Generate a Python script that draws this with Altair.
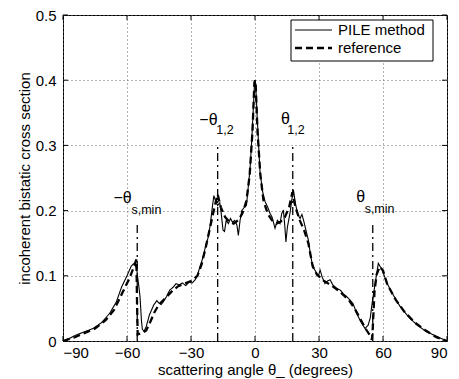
import altair as alt
import pandas as pd

# ---- data ----
pile_deg = [-90, -87, -84, -80, -76, -72, -68, -65, -62.5, -60, -58, -56.7, -55.5, -54.5, -53.9,
            -53.2, -52.8, -52, -51, -49.5, -47.5, -46, -45, -44, -43, -41.5, -40, -38.5, -37,
            -35.5, -34, -32.5, -31, -29.5, -28, -27, -26, -25, -24, -23, -22, -21, -20, -19.3,
            -18.5, -17.5, -16.5, -15.8, -15, -14.3, -13.5, -12.5, -11.5, -10.5, -9.5, -8.5, -7.8,
            -7, -6.2, -5, -4, -3.2, -2.3, -1.5, -0.5, -0.2, 0.3, 1, 2.3, 3.5, 4.7, 6, 7, 8, 9.4,
            10.5, 11.7, 12.5, 13.3, 14, 14.5, 15.2, 16.4, 17.2, 18, 19, 20, 21.1, 22, 22.7, 23.5,
            25, 26, 26.6, 27.5, 28.9, 29.8, 30.5, 31.5, 32.8, 34, 35.2, 36.5, 38.3, 40, 41.5, 43,
            44.5, 46, 47.7, 49.5, 51.6, 53, 54, 55, 56.3, 57.8, 59.5, 61.7, 64, 68, 72, 75.8, 80,
            85.2, 90]
pile_val = [0, 0.004, 0.009, 0.014, 0.019, 0.028, 0.043, 0.060, 0.083, 0.100, 0.115, 0.119, 0.112,
            0.085, 0.068, 0.030, 0.018, 0.015, 0.022, 0.040, 0.055, 0.062, 0.058, 0.056, 0.060,
            0.068, 0.078, 0.082, 0.088, 0.086, 0.089, 0.085, 0.090, 0.089, 0.094, 0.100, 0.112,
            0.122, 0.133, 0.148, 0.158, 0.178, 0.205, 0.223, 0.215, 0.208, 0.212, 0.195, 0.170,
            0.168, 0.185, 0.180, 0.188, 0.182, 0.185, 0.178, 0.162, 0.185, 0.200, 0.205, 0.208,
            0.235, 0.265, 0.310, 0.375, 0.400, 0.395, 0.345, 0.262, 0.230, 0.214, 0.205, 0.196,
            0.190, 0.173, 0.185, 0.180, 0.195, 0.201, 0.175, 0.152, 0.175, 0.196, 0.215, 0.232,
            0.210, 0.195, 0.188, 0.194, 0.186, 0.175, 0.155, 0.132, 0.122, 0.112, 0.104, 0.100,
            0.109, 0.098, 0.088, 0.092, 0.094, 0.086, 0.081, 0.078, 0.072, 0.068, 0.063, 0.057,
            0.042, 0.030, 0.019, 0.024, 0.035, 0.060, 0.088, 0.119, 0.110, 0.090, 0.075, 0.053,
            0.037, 0.025, 0.015, 0.007, 0]

ref_deg = [-90, -85, -80, -75, -70, -66, -62, -59, -57, -55.6, -55.3, -55, -53, -51, -49, -47, -45,
           -42, -39, -36, -33, -30, -27, -25, -23, -21, -19, -17.5, -16, -14, -12, -10, -8, -6, -4,
           -2.5, -1.2, -0.3, 0, 0.3, 1.2, 2.5, 4, 6, 8, 10, 12, 14, 16, 17.5, 19, 21, 23, 25, 27,
           29, 32, 35, 38, 41, 44, 47, 50, 52, 54, 54.8, 55.2, 56, 57, 58.5, 60, 62, 66, 70, 75,
           80, 85, 90]
ref_val = [0, 0.005, 0.012, 0.019, 0.032, 0.048, 0.075, 0.095, 0.112, 0.125, 0.06, 0.010, 0.012,
           0.016, 0.030, 0.045, 0.056, 0.066, 0.076, 0.084, 0.088, 0.092, 0.100, 0.118, 0.145,
           0.175, 0.205, 0.225, 0.205, 0.190, 0.183, 0.180, 0.185, 0.195, 0.215, 0.255, 0.320,
           0.395, 0.400, 0.395, 0.320, 0.255, 0.215, 0.195, 0.185, 0.180, 0.183, 0.190, 0.205,
           0.228, 0.205, 0.185, 0.170, 0.150, 0.115, 0.102, 0.093, 0.087, 0.080, 0.072, 0.063,
           0.048, 0.030, 0.018, 0.008, 0.002, 0.020, 0.075, 0.102, 0.114, 0.108, 0.087, 0.063,
           0.045, 0.028, 0.016, 0.006, 0]

series_names = ["PILE method", "reference"]

# vertical marker lines (angle, top value)
marker_x = [-55.2, -17.5, 17.7, 55.2]
marker_top = [0.184, 0.303, 0.303, 0.184]

# annotation labels: main symbol and subscript
main_text = ["\u2212\u03b8", "\u03b8", "\u2212\u03b8", "\u03b8"]
main_x = [-21.8, 14.3, -62.1, 49.5]
main_y = [0.339, 0.340, 0.219, 0.221]
sub_text = ["1,2", "1,2", "s,min", "s,min"]
sub_x = [-14.1, 19.2, -50.9, 58.4]
sub_y = [0.324, 0.324, 0.201, 0.203]

x_ticks = [-90, -60, -30, 0, 30, 60, 90]
y_ticks = [0, 0.1, 0.2, 0.3, 0.4, 0.5]

W, H = 384, 326
FONT = "Liberation Sans"

curves = pd.concat([
    pd.DataFrame({"deg": pile_deg, "val": pile_val, "series": series_names[0]}),
    pd.DataFrame({"deg": ref_deg, "val": ref_val, "series": series_names[1]}),
])
markers = pd.DataFrame({"x": marker_x, "y0": [0] * 4, "y1": marker_top})
mains = pd.DataFrame({"t": main_text, "x": main_x, "y": main_y})
subs = pd.DataFrame({"t": sub_text, "x": sub_x, "y": sub_y})
xt = pd.DataFrame({"x": x_ticks})
yt = pd.DataFrame({"y": y_ticks})
one = pd.DataFrame({"a": [0]})

xscale = alt.Scale(domain=[-90, 90], nice=False, zero=False)
yscale = alt.Scale(domain=[0, 0.5], nice=False, zero=False)

xenc = alt.X("deg:Q", scale=xscale,
             axis=alt.Axis(values=x_ticks, format="d", title="scattering angle \u03b8_ (degrees)",
                           labelPadding=4, titlePadding=2))
yenc = alt.Y("val:Q", scale=yscale,
             axis=alt.Axis(values=y_ticks, format="~g", title="incoherent bistatic cross section",
                           labelPadding=7, titleX=-31, titleY=H / 2, titleBaseline="bottom",
                           titleAngle=270, titleAlign="center"))

lines = alt.Chart(curves).mark_line(color="black").encode(
    x=xenc, y=yenc,
    strokeDash=alt.StrokeDash("series:N", scale=alt.Scale(domain=series_names, range=[[1, 0], [7, 4]]),
                              legend=None),
    strokeWidth=alt.StrokeWidth("series:N", scale=alt.Scale(domain=series_names, range=[1.1, 2.3]),
                                legend=None),
)

mark_lines = alt.Chart(markers).mark_rule(color="black", strokeWidth=1.3, strokeDash=[8, 4, 2, 4]).encode(
    x=alt.X("x:Q", scale=xscale), y=alt.Y("y0:Q", scale=yscale), y2="y1:Q")

main_lbl = alt.Chart(mains).mark_text(font=FONT, fontSize=16, color="black").encode(
    x=alt.X("x:Q", scale=xscale), y=alt.Y("y:Q", scale=yscale), text="t:N")
sub_lbl = alt.Chart(subs).mark_text(font=FONT, fontSize=12.5, color="black").encode(
    x=alt.X("x:Q", scale=xscale), y=alt.Y("y:Q", scale=yscale), text="t:N")

tick_b = alt.Chart(xt).mark_rule(color="black").encode(
    x=alt.X("x:Q", scale=xscale), y=alt.value(H), y2=alt.value(H - 5))
tick_t = alt.Chart(xt).mark_rule(color="black").encode(
    x=alt.X("x:Q", scale=xscale), y=alt.value(0), y2=alt.value(5))
tick_l = alt.Chart(yt).mark_rule(color="black").encode(
    y=alt.Y("y:Q", scale=yscale), x=alt.value(0), x2=alt.value(5))
tick_r = alt.Chart(yt).mark_rule(color="black").encode(
    y=alt.Y("y:Q", scale=yscale), x=alt.value(W), x2=alt.value(W - 5))

# hand-built legend box (MATLAB style)
leg_box = alt.Chart(one).mark_rect(fill="white", stroke="black", strokeWidth=1).encode(
    x=alt.value(228), x2=alt.value(370), y=alt.value(5), y2=alt.value(46))
leg_l1 = alt.Chart(one).mark_rule(color="black", strokeWidth=1.1).encode(
    x=alt.value(232), x2=alt.value(269), y=alt.value(15))
leg_l2 = alt.Chart(one).mark_rule(color="black", strokeWidth=2.3, strokeDash=[7, 4]).encode(
    x=alt.value(232), x2=alt.value(269), y=alt.value(33))
leg_t1 = alt.Chart(one).mark_text(font=FONT, fontSize=15, color="black", align="left", baseline="middle").encode(
    x=alt.value(275), y=alt.value(15), text=alt.value(series_names[0]))
leg_t2 = alt.Chart(one).mark_text(font=FONT, fontSize=15, color="black", align="left", baseline="middle").encode(
    x=alt.value(275), y=alt.value(33), text=alt.value(series_names[1]))

chart = alt.layer(lines, mark_lines, main_lbl, sub_lbl, tick_b, tick_t, tick_l, tick_r,
                  leg_box, leg_l1, leg_l2, leg_t1, leg_t2).properties(
    width=W, height=H,
    autosize=alt.AutoSizeParams(type="none"),
    padding={"left": 55, "top": 7, "right": 4, "bottom": 38},
    background="white",
).configure_view(
    stroke="black", strokeWidth=1
).configure_axis(
    labelFont=FONT, labelFontSize=15, labelColor="black",
    titleFont=FONT, titleFontSize=15, titleFontWeight="normal", titleColor="black",
    ticks=False, domain=False, grid=True, gridDash=[1, 3], gridColor="#666", gridWidth=1,
)

chart.save("out.html", embed_options={"renderer": "svg", "actions": False})
